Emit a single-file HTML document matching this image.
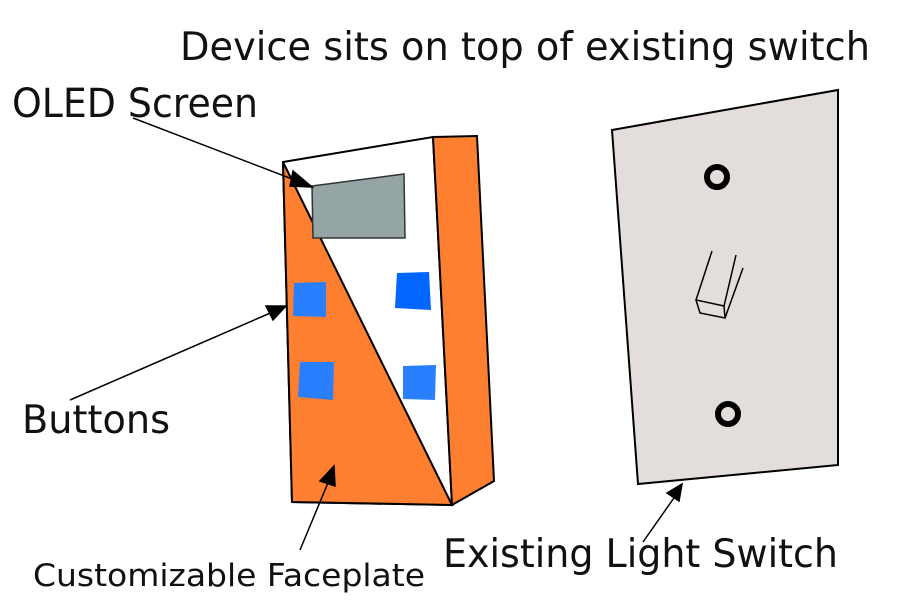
<!DOCTYPE html>
<html><head><meta charset="utf-8"><style>
html,body{margin:0;padding:0;background:#fff;}
svg{display:block;}
text{font-family:"DejaVu Sans","Liberation Sans",sans-serif;fill:#111;}
</style></head><body>
<svg width="904" height="614" viewBox="0 0 904 614">
<text x="180" y="60" font-size="39" textLength="690" lengthAdjust="spacingAndGlyphs">Device sits on top of existing switch</text>
<text x="12" y="117" font-size="40" textLength="246" lengthAdjust="spacingAndGlyphs">OLED Screen</text>
<text x="22" y="433" font-size="39" textLength="148" lengthAdjust="spacingAndGlyphs">Buttons</text>
<text x="33" y="586" font-size="31" textLength="392" lengthAdjust="spacingAndGlyphs">Customizable Faceplate</text>
<text x="443" y="567" font-size="39" textLength="395" lengthAdjust="spacingAndGlyphs">Existing Light Switch</text>

<g>
<polygon points="283,162 433,137 452,505 292,502" fill="#fff" stroke="#000" stroke-width="2"/>
<polygon points="283,162 452,505 292,502" fill="#fd7f2f" stroke="#000" stroke-width="2"/>
<polygon points="433,137 477,136 494,481 452,505" fill="#fd7f2f" stroke="#000" stroke-width="2"/>
<polygon points="312,186 404,174 405,238 313,238" fill="#95a5a6" stroke="#333" stroke-width="1.5"/>
<polygon points="294,283 326,282 326,317 293,316" fill="#2a7fff"/>
<polygon points="300,362 334,362 333,400 298,397" fill="#2a7fff"/>
<polygon points="397,273 429,272 431,310 395,308" fill="#0066ff"/>
<polygon points="403,366 436,365 435,400 403,399" fill="#2a7fff"/>
</g>

<g>
<polygon points="612,130 838,90 838,465 638,484" fill="#e3dedb" stroke="#000" stroke-width="2"/>
<circle cx="717" cy="177" r="10" fill="none" stroke="#000" stroke-width="6"/>
<circle cx="728" cy="414" r="10" fill="none" stroke="#000" stroke-width="6"/>
<g fill="none" stroke="#000" stroke-width="1.5">
<path d="M712,251 L696,300 L724,306 L736,255"/>
<path d="M724,306 L725,318 L700,313 L696,300"/>
<path d="M725,318 L743,268"/>
</g>
</g>

<g stroke="#000" stroke-width="1.5" fill="#000">
<line x1="133" y1="118" x2="300" y2="182"/>
<polygon points="312,187 293,171 290,186"/>
<line x1="70" y1="400" x2="275" y2="311"/>
<polygon points="286,306 266,306 273,320"/>
<line x1="300" y1="550" x2="330" y2="478"/>
<polygon points="334,466 320,481 335,486"/>
<line x1="643" y1="542" x2="676" y2="495"/>
<polygon points="682,484 667,493 679,501"/>
</g>
</svg>
</body></html>
